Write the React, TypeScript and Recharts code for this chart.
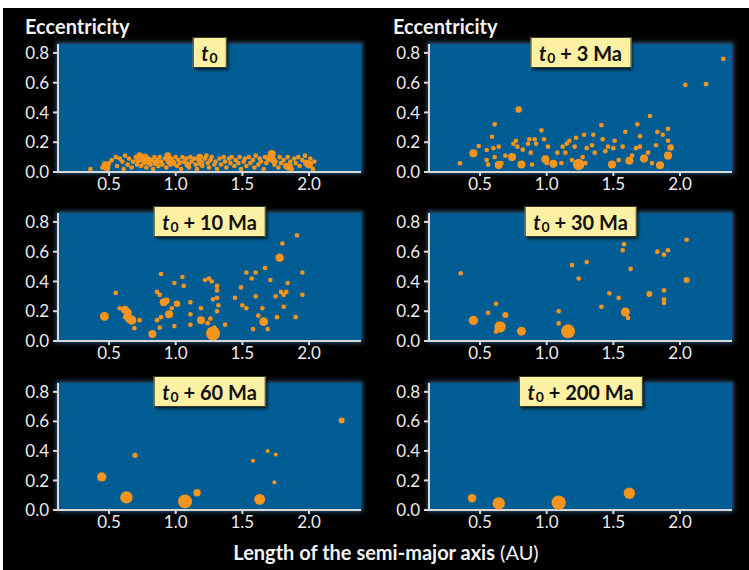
import React from 'react';
import { ScatterChart, Scatter, XAxis, YAxis, ZAxis } from 'recharts';

// ---- DATA: a = semi-major axis (AU), e = eccentricity, m = relative body mass ----
const panelT0 = [
  [0.36,0.02,1],[0.45,0.03,1],[0.47,0.05,2],[0.48,0.035,3],[0.49,0.02,1],[0.50,0.06,1],[0.52,0.08,1],[0.55,0.10,1],
  [0.56,0.04,1],[0.58,0.09,1],[0.60,0.07,1],[0.61,0.02,1],[0.62,0.11,1],[0.64,0.05,1],[0.65,0.09,1],[0.67,0.03,1],
  [0.68,0.07,1],[0.70,0.10,1],[0.71,0.05,1],[0.72,0.08,2],[0.73,0.11,2],[0.74,0.04,1],[0.75,0.09,2],[0.76,0.06,1],
  [0.77,0.10,2],[0.78,0.03,1],[0.79,0.07,2],[0.80,0.09,1],[0.81,0.05,1],[0.82,0.08,1],[0.83,0.02,1],[0.84,0.10,1],
  [0.85,0.06,2],[0.86,0.08,1],[0.87,0.04,1],[0.88,0.10,1],[0.89,0.07,1],[0.90,0.05,1],[0.92,0.09,1],[0.93,0.03,1],
  [0.94,0.11,2],[0.95,0.07,2],[0.96,0.05,1],[0.97,0.09,1],[0.98,0.06,2],[1.00,0.10,1],[1.01,0.04,1],[1.02,0.08,1],
  [1.03,0.06,1],[1.04,0.02,1],[1.05,0.10,1],[1.06,0.07,1],[1.08,0.09,1],[1.09,0.05,2],[1.10,0.03,1],[1.11,0.10,1],
  [1.12,0.07,1],[1.14,0.09,1],[1.15,0.05,1],[1.16,0.02,1],[1.17,0.08,1],[1.18,0.10,2],[1.19,0.06,2],[1.20,0.04,1],
  [1.22,0.09,1],[1.23,0.11,1],[1.24,0.06,1],[1.25,0.03,1],[1.26,0.08,1],[1.27,0.10,1],[1.29,0.05,1],[1.30,0.07,1],
  [1.31,0.02,1],[1.33,0.09,1],[1.34,0.05,1],[1.36,0.10,1],[1.37,0.07,1],[1.38,0.03,1],[1.40,0.09,1],[1.41,0.06,1],
  [1.42,0.10,1],[1.44,0.04,1],[1.45,0.08,1],[1.47,0.06,1],[1.48,0.10,1],[1.49,0.02,1],[1.51,0.07,1],[1.52,0.09,1],
  [1.53,0.04,1],[1.55,0.10,1],[1.56,0.06,1],[1.58,0.08,1],[1.59,0.03,1],[1.60,0.11,1],[1.62,0.05,1],[1.63,0.09,1],
  [1.64,0.07,1],[1.66,0.02,1],[1.67,0.10,1],[1.68,0.06,1],[1.70,0.09,2],[1.71,0.11,1],[1.72,0.12,3],[1.73,0.08,2],
  [1.74,0.05,1],[1.75,0.07,1],[1.77,0.03,1],[1.78,0.10,1],[1.79,0.06,1],[1.81,0.08,1],[1.83,0.04,2],[1.84,0.10,1],
  [1.85,0.035,3],[1.86,0.07,1],[1.87,0.02,1],[1.89,0.09,1],[1.90,0.06,1],[1.92,0.10,1],[1.93,0.04,1],[1.95,0.08,1],
  [1.97,0.11,1],[1.98,0.06,2],[2.00,0.05,3],[2.01,0.09,1],[2.03,0.02,1],[2.04,0.07,1],
];

const panel3Ma = [
  [0.35,0.058,1],[0.45,0.126,3],[0.49,0.175,1],[0.61,0.32,1],[0.59,0.237,1],[0.55,0.148,1],[0.55,0.08,1],[0.56,0.05,1],
  [0.60,0.16,1],[0.61,0.10,1],[0.64,0.047,3],[0.64,0.17,1],[0.66,0.06,1],[0.69,0.11,1],[0.74,0.10,3],[0.75,0.19,1],
  [0.77,0.21,1],[0.79,0.42,2],[0.78,0.17,1],[0.81,0.05,3],[0.82,0.15,1],[0.86,0.19,1],[0.87,0.22,1],[0.88,0.13,1],
  [0.89,0.05,1],[0.91,0.22,1],[0.92,0.19,1],[0.96,0.28,1],[0.99,0.085,3],[0.98,0.22,1],[1.00,0.06,1],[1.01,0.17,1],
  [1.05,0.055,3],[1.08,0.13,1],[1.11,0.06,1],[1.12,0.17,1],[1.14,0.13,1],[1.15,0.19,1],[1.17,0.21,1],[1.19,0.08,1],
  [1.21,0.17,1],[1.22,0.23,1],[1.24,0.05,6],[1.27,0.10,1],[1.28,0.25,1],[1.29,0.06,1],[1.30,0.16,1],[1.34,0.18,1],
  [1.35,0.25,1],[1.36,0.13,1],[1.41,0.315,1],[1.42,0.22,1],[1.44,0.14,1],[1.46,0.17,1],[1.49,0.05,3],[1.50,0.16,1],
  [1.51,0.21,1],[1.54,0.08,1],[1.57,0.17,1],[1.59,0.27,1],[1.62,0.075,3],[1.64,0.11,1],[1.67,0.16,1],[1.68,0.32,1],
  [1.70,0.24,1],[1.70,0.17,1],[1.73,0.09,3],[1.775,0.376,1],[1.76,0.13,1],[1.79,0.06,1],[1.82,0.18,1],[1.83,0.27,1],
  [1.85,0.045,3],[1.87,0.25,1],[1.91,0.29,1],[1.91,0.21,1],[1.91,0.11,3],[1.93,0.165,2],[2.04,0.585,1],[2.195,0.59,1],
  [2.325,0.76,1],
];

const panel10Ma = [
  [0.465,0.165,3.7],[0.55,0.323,1],[0.58,0.22,1],[0.62,0.21,3],[0.64,0.19,3],[0.65,0.15,3],[0.67,0.14,4],[0.62,0.16,1],
  [0.69,0.086,1],[0.73,0.14,1],[0.825,0.047,3],[0.86,0.33,1],[0.88,0.31,1],[0.86,0.14,1],[0.88,0.09,1],[0.89,0.16,1],
  [0.89,0.45,1],[0.91,0.26,3],[0.93,0.27,2],[0.95,0.18,3],[0.97,0.22,1],[0.99,0.10,1],[0.99,0.39,1],[1.01,0.25,2],
  [1.05,0.43,1],[1.06,0.37,1],[1.11,0.26,1],[1.11,0.18,1],[1.11,0.11,1],[1.19,0.22,1],[1.19,0.14,3],[1.22,0.41,1],
  [1.25,0.42,1],[1.27,0.40,1],[1.24,0.12,1],[1.26,0.15,1],[1.28,0.05,9],[1.28,0.28,1],[1.29,0.09,1],[1.31,0.37,1],
  [1.31,0.34,1],[1.31,0.29,1],[1.32,0.24,1],[1.31,0.20,1],[1.37,0.11,1],[1.445,0.29,1],[1.49,0.36,1],[1.50,0.24,1],
  [1.53,0.22,1],[1.53,0.46,1],[1.57,0.42,1],[1.60,0.46,1],[1.60,0.30,1],[1.58,0.08,1],[1.62,0.17,1],[1.65,0.22,1],
  [1.66,0.13,3.5],[1.67,0.49,1],[1.69,0.08,1],[1.71,0.41,1],[1.75,0.30,1],[1.76,0.16,1],[1.78,0.56,3.3],[1.80,0.655,1],
  [1.79,0.33,1],[1.81,0.31,1],[1.83,0.33,1],[1.81,0.23,1],[1.84,0.39,1],[1.90,0.16,1],[1.91,0.71,1],[1.95,0.46,1],
  [1.95,0.31,1],
];

const panel30Ma = [
  [0.355,0.455,1],[0.45,0.138,4],[0.56,0.19,1],[0.62,0.25,1],[0.62,0.063,1],[0.65,0.095,6],[0.69,0.175,1.7],[0.81,0.066,3.7],
  [1.09,0.20,1],[1.09,0.118,1],[1.16,0.065,9],[1.19,0.51,1],[1.24,0.42,1],[1.30,0.53,1],[1.41,0.23,1],[1.47,0.32,1],
  [1.54,0.29,1],[1.57,0.61,1],[1.58,0.65,1],[1.59,0.195,3.7],[1.61,0.155,1],[1.63,0.485,1],[1.77,0.315,1.7],[1.83,0.60,1],
  [1.88,0.58,1],[1.91,0.61,1],[1.88,0.34,1],[1.88,0.28,1],[1.88,0.255,1],[2.05,0.68,1],[2.05,0.41,1.7],
];

const panel60Ma = [
  [0.445,0.224,4],[0.63,0.085,7],[0.695,0.37,1.3],[1.07,0.058,9],[1.16,0.117,2.5],[1.58,0.334,0.75],[1.63,0.072,5.5],
  [1.69,0.40,0.75],[1.75,0.375,0.75],[1.74,0.187,0.75],[2.245,0.606,1.7],
];

const panel200Ma = [
  [0.44,0.079,3.3],[0.64,0.045,7],[1.09,0.05,9.5],[1.62,0.113,6],
];

const panelLabels = ['', ' + 3 Ma', ' + 10 Ma', ' + 30 Ma', ' + 60 Ma', ' + 200 Ma'];
const xTicks = [0.5, 1.0, 1.5, 2.0];
const yTicks = [0, 0.2, 0.4, 0.6, 0.8];
const xDomain = [0.117, 2.39];
const yDomain = [0, 0.86];

// ---- LAYOUT / STYLE ----
const FONT = 'Lato, "Open Sans", "DejaVu Sans", sans-serif';
const BLUE = '#005d93';
const ORANGE = '#f7941d';
const AXIS = '#d8d8d8';
const Y_AXIS_W = 50;
const M_TOP = 5;
const M_RIGHT = 10;
const X_AXIS_H = 30;

const plots = [
  { left: 58, top: 44, right: 361, bottom: 172 },
  { left: 429, top: 44, right: 732, bottom: 172 },
  { left: 58, top: 213, right: 361, bottom: 341 },
  { left: 429, top: 213, right: 732, bottom: 341 },
  { left: 58, top: 383, right: 361, bottom: 510 },
  { left: 429, top: 383, right: 732, bottom: 510 },
];

const datasets = [panelT0, panel3Ma, panel10Ma, panel30Ma, panel60Ma, panel200Ma].map((arr) =>
  arr.map(([a, e, m]) => ({ a, e, m }))
);

const tickStyle = { fill: '#ececec', fontSize: 17, fontFamily: FONT };

function Panel({ idx }: { idx: number }) {
  const p = plots[idx];
  const w = p.right - p.left;
  const h = p.bottom - p.top;
  const chartW = Y_AXIS_W + w + M_RIGHT;
  const chartH = M_TOP + h + X_AXIS_H;
  const cx = p.left + w / 2;
  return (
    <>
      <div
        style={{
          position: 'absolute',
          left: p.left,
          top: p.top,
          width: w,
          height: h,
          background: BLUE,
          boxShadow: '0 0 4px 2px rgba(70,150,210,0.55)',
        }}
      />
      <div style={{ position: 'absolute', left: p.left - Y_AXIS_W, top: p.top - M_TOP }}>
        <ScatterChart width={chartW} height={chartH} margin={{ top: M_TOP, right: M_RIGHT, bottom: 0, left: 0 }}>
          <XAxis
            type="number"
            dataKey="a"
            domain={xDomain}
            ticks={xTicks}
            allowDataOverflow
            height={X_AXIS_H}
            tickFormatter={(v: number) => v.toFixed(1)}
            tick={tickStyle}
            tickSize={4}
            tickMargin={2}
            stroke={AXIS}
            strokeWidth={2}
          />
          <YAxis
            type="number"
            dataKey="e"
            domain={yDomain}
            ticks={yTicks}
            allowDataOverflow
            width={Y_AXIS_W}
            tickFormatter={(v: number) => v.toFixed(1)}
            tick={tickStyle}
            tickSize={5}
            tickMargin={4}
            stroke={AXIS}
            strokeWidth={2}
          />
          <ZAxis type="number" dataKey="m" domain={[0, 12]} range={[0, 204]} />
          <Scatter data={datasets[idx]} fill={ORANGE} isAnimationActive={false} />
        </ScatterChart>
      </div>
      <div
        style={{
          position: 'absolute',
          left: cx,
          top: p.top - 7,
          height: 31,
          transform: 'translateX(-50%)',
          background: '#fcf0a2',
          border: '1px solid #3a3a2a',
          boxShadow: '2px 2px 3px rgba(0,0,0,0.7)',
          padding: '0 8px',
          display: 'flex',
          alignItems: 'center',
          whiteSpace: 'nowrap',
          fontFamily: FONT,
          fontWeight: 700,
          fontSize: 20,
          color: '#111',
          boxSizing: 'border-box',
        }}
      >
        <span style={{ fontStyle: 'italic' }}>t</span>
        <span style={{ fontSize: 14, position: 'relative', top: 5, marginLeft: 1 }}>0</span>
        <span style={{ whiteSpace: 'pre' }}>{panelLabels[idx]}</span>
      </div>
    </>
  );
}

export default function App() {
  return (
    <div style={{ position: 'absolute', left: 0, top: 0, width: 749, height: 570, background: '#fff', overflow: 'hidden' }}>
      <div style={{ position: 'absolute', left: 3, top: 8, width: 746, height: 562, background: '#000' }} />
      <div style={{ position: 'absolute', left: 25, top: 14, color: '#f2f2f2', fontFamily: FONT, fontWeight: 700, fontSize: 20 }}>
        Eccentricity
      </div>
      <div style={{ position: 'absolute', left: 393, top: 14, color: '#f2f2f2', fontFamily: FONT, fontWeight: 700, fontSize: 20 }}>
        Eccentricity
      </div>
      {plots.map((_, i) => (
        <Panel key={i} idx={i} />
      ))}
      <div
        style={{
          position: 'absolute',
          left: 386,
          top: 540,
          transform: 'translateX(-50%)',
          whiteSpace: 'nowrap',
          color: '#f2f2f2',
          fontFamily: FONT,
          fontSize: 20,
        }}
      >
        <span style={{ fontWeight: 700 }}>Length of the semi-major axis</span> (AU)
      </div>
    </div>
  );
}
